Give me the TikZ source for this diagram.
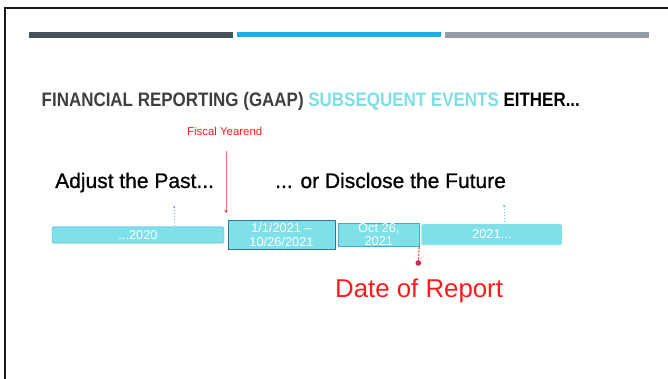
\documentclass[tikz,border=0pt]{standalone}
\usepackage{fontspec}
\setmainfont{Liberation Sans}
\newfontfamily\titlefont[FakeStretch=0.87]{Liberation Sans}
\newfontfamily\bigfont[FakeBold=0.8]{Liberation Sans}
\usetikzlibrary{arrows.meta, positioning, calc}

\definecolor{bardark}{HTML}{46525A}
\definecolor{barblue}{HTML}{1EADE2}
\definecolor{bargray}{HTML}{969CA5}
\definecolor{titlegray}{HTML}{3F3F3F}
\definecolor{titlecyan}{HTML}{7FDDE6}
\definecolor{boxfill}{HTML}{7EE0E8}
\definecolor{boxedge}{HTML}{45A9D6}
\definecolor{reportred}{HTML}{FF1A1A}

\tikzset{
  period/.style={draw=boxedge, fill=boxfill, text=white, align=center, inner sep=0pt,
    font=\fontsize{12.8}{13.5}\selectfont, rounded corners=1.5pt},
  marker/.style={draw=boxedge!80, dotted, line width=1pt},
  bigtext/.style={anchor=base west, inner sep=0pt, font=\bigfont\fontsize{21}{24}\selectfont}
}

\begin{document}
\begin{tikzpicture}[x=1pt, y=-1pt]
        \useasboundingbox (0,0) rectangle (668,379);
        % slide frame and header bars
        \draw[black!90, line width=2.5pt] (5,381) -- (5,8) -- (670,8);
        \fill[bardark] (29,32) rectangle (233,38);
        \fill[barblue] (237,32) rectangle (441,37);
        \fill[bargray] (445,32) rectangle (649,38);

        \node[anchor=base west, inner sep=0pt, font=\titlefont\bfseries\fontsize{19.5}{22}\selectfont] (title) at (41.5,106.8)
          {\textcolor{titlegray}{FINANCIAL REPORTING (GAAP)} \textcolor{titlecyan}{SUBSEQUENT EVENTS} EITHER...};
        \node[anchor=base west, inner sep=0pt, text=reportred, font=\fontsize{11.4}{13}\selectfont] (fiscal) at (187,136) {Fiscal Yearend};

        \node[bigtext] (past) at (55,188) {Adjust the Past...};
        \node[bigtext] (future) at (275,188) {... or Disclose the Future};

        % timeline
        \node[period, minimum width=172pt, minimum height=16.3pt] (b2020) at (138,235) {...2020};
        \node[period, draw=boxedge!70!black, line width=1pt, rounded corners=0pt, minimum width=107pt, minimum height=28.3pt] (bytd) at (281.5,235) {1/1/2021 --\\10/26/2021};
        \node[period, rounded corners=0pt, minimum width=80.3pt, minimum height=23.7pt] (boct) at (378.8,234.8) {Oct 26,\\2021};
        \node[period, draw=boxedge!40, minimum width=140.3pt, minimum height=21pt] (b2021) at (491.8,234.5) {2021...};

        \node[anchor=base west, inner sep=0pt, text=reportred, font=\fontsize{25.8}{28}\selectfont] (report) at (335,297) {Date of Report};

        \coordinate (yearend) at (226,213);
        \coordinate (pastmark) at (174,207);
        \coordinate (futuremark) at (504,206);
        \node[circle, draw=reportred, fill=boxedge!60!blue, line width=1pt, inner sep=0pt, minimum size=4.5pt] (dot) at (418.3,263) {};

        \draw[reportred!60, line width=0.8pt, -{Stealth[length=3pt, width=3pt, reportred]}] (226,151) -- (yearend);
        \draw[marker] (pastmark) -- (b2020.north -| pastmark);
        \draw[marker] (futuremark) -- (b2021.north -| futuremark);
        \fill[boxedge] (pastmark) circle (1pt) (futuremark) circle (1pt);
        \draw[reportred, dashed, line width=0.9pt, dash pattern=on 2pt off 1.5pt] (boct.south east) -- (dot);
\end{tikzpicture}
\end{document}
